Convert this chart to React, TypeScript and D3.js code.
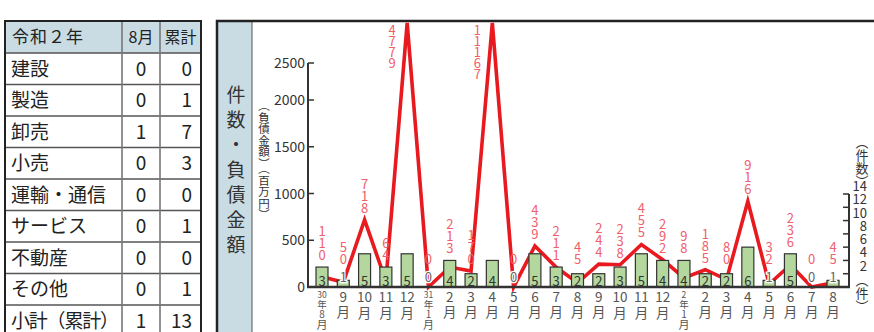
import { useEffect, useRef } from 'react';
import * as d3 from 'd3';

// table (令和2年)
const industries = ['建設', '製造', '卸売', '小売', '運輸・通信', 'サービス', '不動産', 'その他', '小計（累計）'];
const augCounts = [0, 0, 1, 0, 0, 0, 0, 0, 1];
const cumCounts = [0, 1, 7, 3, 0, 1, 0, 1, 13];

// chart
const months = [
  '30年8月', '9月', '10月', '11月', '12月', '31年1月', '2月', '3月', '4月', '5月', '6月', '7月', '8月',
  '9月', '10月', '11月', '12月', '2年1月', '2月', '3月', '4月', '5月', '6月', '7月', '8月',
];
const counts = [3, 1, 5, 3, 5, 0, 4, 2, 4, 0, 5, 3, 2, 2, 3, 5, 4, 4, 2, 2, 6, 1, 5, 0, 1];
const debts = [110, 50, 718, 64, 4779, 0, 213, 170, 11167, 0, 439, 211, 45, 244, 238, 455, 292, 98, 185, 80, 916, 32, 236, 0, 45];

const leftTicks = [0, 500, 1000, 1500, 2000, 2500];
const rightTicks = [0, 2, 4, 6, 8, 10, 12, 14];

const W = 874;
const H = 332;
const FONT = '"Noto Sans CJK JP", "Noto Sans", sans-serif';

export default function App() {
  const svgRef = useRef<SVGSVGElement>(null);

  useEffect(() => {
    if (!svgRef.current) return;
    const svg = d3.select(svgRef.current);
    svg.selectAll('*').remove();
    svg.style('font-family', FONT);

    // upright vertical text helper
    const vtext = (x: number, top: number, size: number, spacing: number, str: string, fill: string) =>
      svg.append('text')
        .attr('x', x).attr('y', top)
        .attr('font-size', size)
        .attr('letter-spacing', spacing)
        .attr('fill', fill)
        .style('writing-mode', 'vertical-rl')
        .style('text-orientation', 'upright')
        .text(str);

    // ---- table ----
    const tx = [5, 122, 160, 201];
    const headTop = 21;
    const headBottom = 53;
    const rowH = 31.5;
    const tableBottom = headBottom + rowH * industries.length;
    const table = svg.append('g');

    table.append('rect')
      .attr('x', tx[0]).attr('y', headTop)
      .attr('width', tx[3] - tx[0]).attr('height', headBottom - headTop)
      .attr('fill', '#c9dce4');

    industries.forEach((_, i) => {
      table.append('line')
        .attr('x1', tx[0]).attr('x2', tx[3])
        .attr('y1', headBottom + rowH * i).attr('y2', headBottom + rowH * i)
        .attr('stroke', '#555').attr('stroke-width', 1.3);
    });
    [tx[1], tx[2]].forEach(x => {
      table.append('line')
        .attr('x1', x).attr('x2', x)
        .attr('y1', headTop).attr('y2', tableBottom)
        .attr('stroke', '#777').attr('stroke-width', 1.6);
    });
    table.append('rect')
      .attr('x', tx[0]).attr('y', headTop)
      .attr('width', tx[3] - tx[0]).attr('height', tableBottom - headTop)
      .attr('fill', 'none').attr('stroke', '#222').attr('stroke-width', 2);

    const headY = (headTop + headBottom) / 2 + 6;
    table.append('text').attr('x', 12).attr('y', headY).attr('font-size', 17).attr('fill', '#222')
      .attr('letter-spacing', 1).text('令和２年');
    table.append('text').attr('x', (tx[1] + tx[2]) / 2).attr('y', headY).attr('text-anchor', 'middle')
      .attr('font-size', 16).attr('fill', '#222').text('8月');
    table.append('text').attr('x', (tx[2] + tx[3]) / 2).attr('y', headY).attr('text-anchor', 'middle')
      .attr('font-size', 16).attr('fill', '#222').text('累計');

    industries.forEach((name, i) => {
      const cy = headBottom + rowH * i + rowH / 2 + 7;
      const label = table.append('text').attr('x', 11).attr('y', cy).attr('font-size', 19).attr('fill', '#222').text(name);
      if (name.length > 5) label.attr('letter-spacing', -1.2);
      table.append('text').attr('x', (tx[1] + tx[2]) / 2).attr('y', cy).attr('text-anchor', 'middle')
        .attr('font-size', 19).attr('fill', '#222').text(augCounts[i]);
      table.append('text').attr('x', 192).attr('y', cy).attr('text-anchor', 'end')
        .attr('font-size', 19).attr('fill', '#222').text(cumCounts[i]);
    });

    // ---- chart frame + side panel ----
    svg.append('rect')
      .attr('x', 217).attr('y', 21).attr('width', 35).attr('height', 330)
      .attr('fill', '#c9dce4');
    svg.append('line')
      .attr('x1', 252).attr('x2', 252).attr('y1', 21).attr('y2', 340)
      .attr('stroke', '#555').attr('stroke-width', 1);
    svg.append('rect')
      .attr('x', 217).attr('y', 21).attr('width', 700).attr('height', 400)
      .attr('fill', 'none').attr('stroke', '#222').attr('stroke-width', 2.5);

    vtext(236, 85, 19, 6, '件数・負債金額', '#333');

    // ---- scales ----
    const x = d3.scalePoint<number>().domain(d3.range(months.length)).range([322, 833]);
    const yL = d3.scaleLinear().domain([0, 2000, 2500]).range([287, 100, 63]);
    const yR = d3.scaleLinear().domain([0, 14]).range([287, 194]);
    const topCap = 23;

    // axes
    const axes = svg.append('g').attr('stroke', '#333');
    axes.append('line').attr('x1', 308).attr('x2', 308).attr('y1', yL(2500)).attr('y2', yL(0)).attr('stroke-width', 2);
    leftTicks.forEach(t => {
      axes.append('line').attr('x1', 308).attr('x2', 314).attr('y1', yL(t)).attr('y2', yL(t)).attr('stroke-width', 1.5);
      svg.append('text')
        .attr('x', 305).attr('y', yL(t) + 5).attr('text-anchor', 'end')
        .attr('font-size', 14).attr('fill', '#333').text(t);
    });
    axes.append('line').attr('x1', 849).attr('x2', 849).attr('y1', yR(14)).attr('y2', yR(0)).attr('stroke-width', 2);
    rightTicks.forEach(t => {
      axes.append('line').attr('x1', 843).attr('x2', 849).attr('y1', yR(t)).attr('y2', yR(t)).attr('stroke-width', 1.5);
      if (t > 0) {
        svg.append('text')
          .attr('x', 867).attr('y', yR(t) - 3).attr('text-anchor', 'end')
          .attr('font-size', 13).attr('fill', '#333').text(t);
      }
    });

    // axis titles
    svg.append('text')
      .attr('x', 264).attr('y', 100)
      .style('writing-mode', 'vertical-rl')
      .attr('font-size', 11.5).attr('fill', '#333')
      .text('（負債金額）（百万円）');
    svg.append('text')
      .attr('x', 862).attr('y', 136)
      .style('writing-mode', 'vertical-rl')
      .attr('font-size', 13).attr('fill', '#333')
      .text('（件数）');
    svg.append('text')
      .attr('x', 862).attr('y', 274)
      .style('writing-mode', 'vertical-rl')
      .attr('font-size', 13).attr('fill', '#333')
      .text('（件）');

    // ---- debt line (behind bars) ----
    svg.append('clipPath').attr('id', 'plot-clip')
      .append('rect').attr('x', 253).attr('y', topCap - 1).attr('width', 620).attr('height', 300);

    const line = d3.line<number>()
      .x((_, i) => x(i) as number)
      .y(d => Math.max(yL(d), topCap));

    svg.append('path')
      .datum(debts)
      .attr('clip-path', 'url(#plot-clip)')
      .attr('fill', 'none')
      .attr('stroke', '#e8191f')
      .attr('stroke-width', 3.6)
      .attr('stroke-linejoin', 'miter')
      .attr('d', line);

    // ---- count bars ----
    const barW = 12;
    svg.append('g').selectAll('rect')
      .data(counts.map((c, i) => ({ c, i })).filter(d => d.c > 0))
      .join('rect')
      .attr('x', d => (x(d.i) as number) - barW / 2)
      .attr('y', d => yR(d.c))
      .attr('width', barW)
      .attr('height', d => yR(0) - yR(d.c))
      .attr('fill', '#b4d79e')
      .attr('stroke', '#333')
      .attr('stroke-width', 1.2);

    // baseline on top
    svg.append('line')
      .attr('x1', 307).attr('x2', 850).attr('y1', 287).attr('y2', 287)
      .attr('stroke', '#333').attr('stroke-width', 2.5);

    // count labels
    counts.forEach((c, i) => {
      const small = c <= 1;
      svg.append('text')
        .attr('x', x(i) as number).attr('y', small ? 282 : 286)
        .attr('text-anchor', 'middle')
        .attr('font-size', 13)
        .attr('fill', small ? '#666' : '#333')
        .attr('stroke', small ? '#fff' : 'none')
        .attr('stroke-width', small ? 2.5 : 0)
        .attr('paint-order', 'stroke')
        .text(c);
    });

    // debt labels (vertical digits)
    const red = '#f0606b';
    debts.forEach((d, i) => {
      const str = String(d);
      const n = str.length;
      const px = x(i) as number;
      if (yL(d) < yL(2500)) {
        // off-scale spikes: label sits left of the peak, from the top
        vtext(px - 15, 23.5, 13, -2, str, red);
      } else {
        const base = Math.min(yL(d), yR(counts[i]), 271) - 12;
        vtext(px, base - (n - 1) * 12 - 6.5, 13, -1, str, red);
      }
    });

    // month labels
    months.forEach((m, i) => {
      const px = x(i) as number;
      const parts = m.match(/^(\d+)年(\d+)月$/);
      const num = m.replace('月', '');
      if (parts) {
        svg.append('text')
          .attr('x', px).attr('y', 297.8).attr('text-anchor', 'middle')
          .attr('font-size', 8.5).attr('fill', '#555')
          .text(parts[1]);
        const t = svg.append('text')
          .attr('x', px).attr('y', 300)
          .attr('letter-spacing', -0.5)
          .attr('fill', '#555')
          .style('writing-mode', 'vertical-rl')
          .style('text-orientation', 'upright');
        t.append('tspan').attr('font-size', 9.5).text('年');
        t.append('tspan').attr('font-size', 10).text(parts[2]);
        t.append('tspan').attr('font-size', 11).text('月');
      } else if (num.length === 1) {
        vtext(px, 290, 13.5, 1.5, m, '#555');
      } else {
        svg.append('text')
          .attr('x', px).attr('y', 302).attr('text-anchor', 'middle')
          .attr('font-size', 13.5).attr('fill', '#555')
          .text(num);
        vtext(px, 306, 13.5, 0, '月', '#555');
      }
    });
  }, []);

  return (
    <svg
      ref={svgRef}
      width={W}
      height={H}
      style={{ position: 'absolute', left: 0, top: 0, background: '#fff' }}
    />
  );
}
